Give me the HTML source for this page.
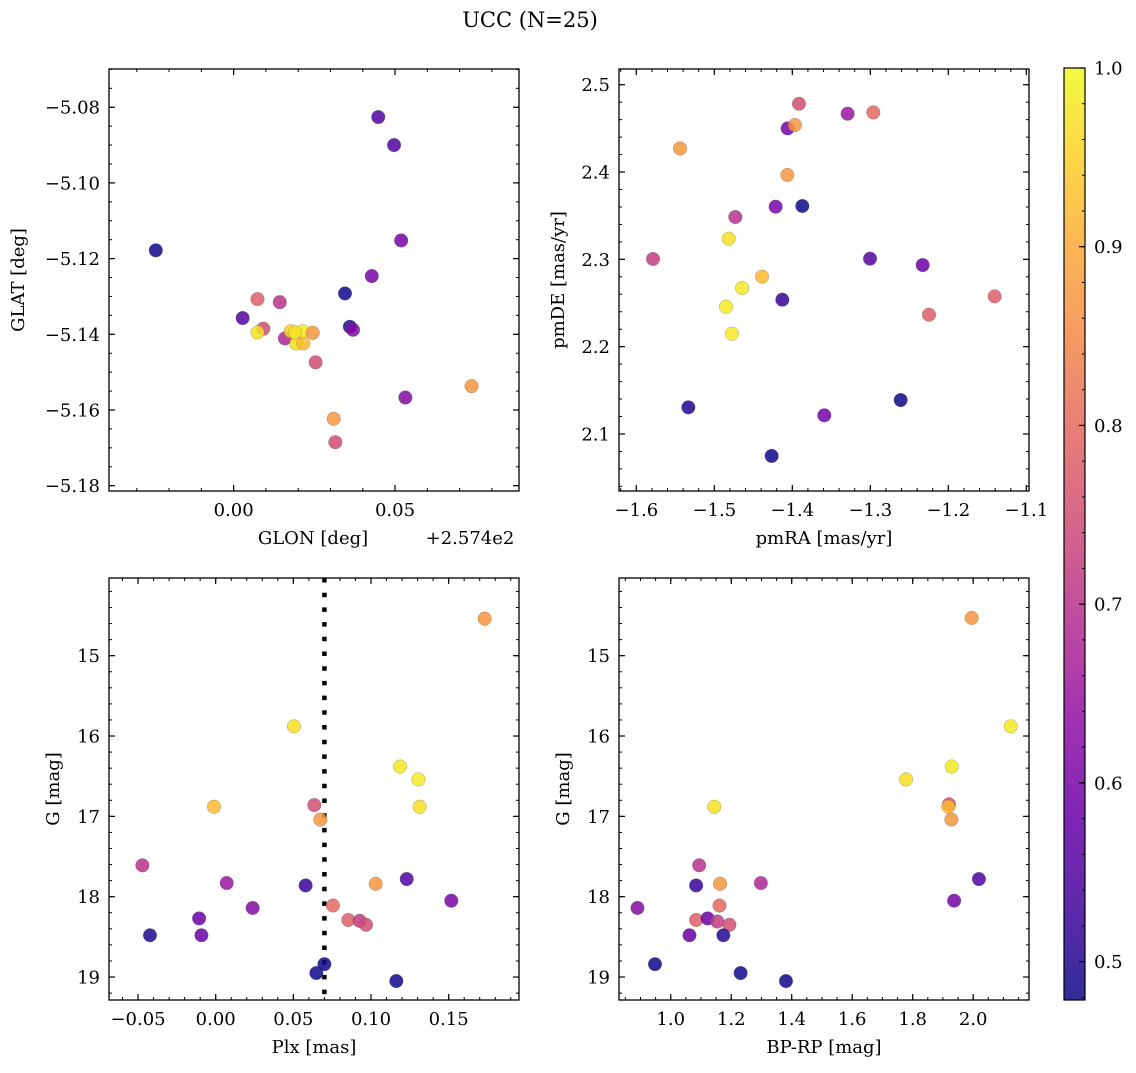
<!DOCTYPE html>
<html><head><meta charset="utf-8">
<style>
html,body{margin:0;padding:0;background:#fff;}
svg text{font-family:"DejaVu Serif","Liberation Serif",serif;fill:#000;}
</style></head>
<body>
<svg id="fig" width="1136" height="1068" viewBox="0 0 1136 1068" xmlns="http://www.w3.org/2000/svg">
<defs>
<linearGradient id="plasma" x1="0" y1="1" x2="0" y2="0">
<stop offset="0" stop-color="#0d0887"/><stop offset="0.1" stop-color="#41049d"/><stop offset="0.2" stop-color="#6a00a8"/><stop offset="0.3" stop-color="#8f0da4"/><stop offset="0.4" stop-color="#b12a90"/><stop offset="0.5" stop-color="#cc4778"/><stop offset="0.6" stop-color="#e16462"/><stop offset="0.7" stop-color="#f2844b"/><stop offset="0.8" stop-color="#fca636"/><stop offset="0.9" stop-color="#fcce25"/><stop offset="1" stop-color="#f0f921"/>
</linearGradient>
</defs>
<text x="530" y="27" font-size="21" text-anchor="middle">UCC (N=25)</text>
</svg>
<script>
// ---- data ----
const glon = [-0.0241,0.0028,0.0074,0.0092,0.0074,0.0143,0.0159,0.0177,0.0194,0.0216,0.0215,0.0245,0.0254,0.0310,0.0315,0.0345,0.0360,0.0370,0.0428,0.0448,0.0497,0.0519,0.0532,0.0737,0.0190];
const glat = [-5.1178,-5.1357,-5.1307,-5.1385,-5.1395,-5.1315,-5.1411,-5.1392,-5.1424,-5.1424,-5.1392,-5.1396,-5.1474,-5.1623,-5.1685,-5.1292,-5.1380,-5.1388,-5.1246,-5.0826,-5.0900,-5.1152,-5.1567,-5.1537,-5.1395];
const probTL = [0.48,0.55,0.78,0.75,0.97,0.70,0.68,0.95,0.97,0.92,0.98,0.87,0.75,0.87,0.75,0.48,0.50,0.62,0.60,0.55,0.55,0.60,0.62,0.87,0.97];

const pmra = [-1.3915,-1.3291,-1.2962,-1.406,-1.3966,-1.544,-1.4064,-1.4214,-1.3872,-1.4731,-1.4816,-1.5786,-1.3004,-1.2329,-1.4389,-1.4645,-1.4128,-1.485,-1.1406,-1.2248,-1.4774,-1.5333,-1.2611,-1.359,-1.4265];
const pmde = [2.4782,2.4668,2.4683,2.450,2.4538,2.427,2.3966,2.3603,2.3611,2.3485,2.3237,2.3004,2.3008,2.2935,2.2802,2.2672,2.2538,2.2458,2.2576,2.2366,2.2149,2.1305,2.1389,2.1214,2.0748];
const probTR = [0.75,0.65,0.80,0.60,0.87,0.87,0.87,0.60,0.48,0.70,0.97,0.72,0.55,0.58,0.92,0.98,0.52,0.98,0.78,0.78,0.98,0.50,0.48,0.60,0.48];

const plx = [-0.0472,-0.0423,-0.0107,-0.0092,-0.0011,0.0071,0.0238,0.0504,0.0579,0.0635,0.0674,0.0648,0.0700,0.0755,0.0854,0.0927,0.0968,0.1030,0.1187,0.1305,0.1313,0.1230,0.1163,0.1517,0.1732];
const gmagBL = [17.61,18.48,18.27,18.48,16.88,17.83,18.14,15.88,17.86,16.86,17.04,18.95,18.84,18.11,18.29,18.30,18.35,17.84,16.38,16.54,16.88,17.78,19.05,18.05,14.54];
const probBL = [0.70,0.50,0.58,0.58,0.92,0.65,0.62,0.97,0.52,0.75,0.87,0.48,0.48,0.80,0.78,0.72,0.75,0.87,0.98,0.98,0.97,0.55,0.48,0.60,0.87];

const bprp = [1.995,2.124,1.929,1.778,1.920,1.918,1.928,1.144,1.094,1.084,1.163,1.298,2.019,1.937,0.890,1.161,1.084,1.122,1.154,1.194,1.062,1.174,0.948,1.231,1.381];
const gmagBR = [14.53,15.88,16.38,16.54,16.85,16.88,17.04,16.88,17.61,17.86,17.84,17.83,17.78,18.05,18.14,18.11,18.29,18.27,18.31,18.35,18.48,18.48,18.84,18.95,19.05];
const probBR = [0.87,0.98,0.98,0.97,0.75,0.92,0.87,0.97,0.70,0.52,0.87,0.68,0.55,0.60,0.62,0.80,0.78,0.58,0.72,0.75,0.58,0.50,0.48,0.48,0.48];

const tickTLx = [0.00,0.05], tickTLy = [-5.08,-5.10,-5.12,-5.14,-5.16,-5.18];
const tickTRx = [-1.6,-1.5,-1.4,-1.3,-1.2,-1.1], tickTRy = [2.1,2.2,2.3,2.4,2.5];
const tickBLx = [-0.05,0.00,0.05,0.10,0.15], tickBy = [15,16,17,18,19];
const tickBRx = [1.0,1.2,1.4,1.6,1.8,2.0];
const cbTicks = [0.5,0.6,0.7,0.8,0.9,1.0];
const plxLine = 0.07;
const cMin = 0.4785, cMax = 1.0;

// ---- helpers ----
const NS = "http://www.w3.org/2000/svg";
const svg = document.getElementById('fig');
const TF = 18, LF = 18;
function mk(tag, attrs, parent){ const e=document.createElementNS(NS,tag); for(const k in attrs) e.setAttribute(k,attrs[k]); (parent||svg).appendChild(e); return e; }
const stops=[[0,[13,8,135]],[0.1,[65,4,157]],[0.2,[106,0,168]],[0.3,[143,13,164]],[0.4,[177,42,144]],[0.5,[204,71,120]],[0.6,[225,100,98]],[0.7,[242,132,75]],[0.8,[252,166,54]],[0.9,[252,206,37]],[1,[240,249,33]]];
function plasma(v){ let t=(v-cMin)/(cMax-cMin); t=Math.max(0,Math.min(1,t));
  for(let i=1;i<stops.length;i++){ if(t<=stops[i][0]){ const a=stops[i-1],b=stops[i]; const f=(t-a[0])/(b[0]-a[0]);
    const c=a[1].map((x,j)=>Math.round(x+(b[1][j]-x)*f)); return `rgb(${c[0]},${c[1]},${c[2]})`; } }
  return 'rgb(240,249,33)'; }
function fmt(v,d){ const s=v.toFixed(d); return s.startsWith('-')?'\u2212'+s.slice(1):s; }

function panel(o){
  const {x0,y0,w,h,xmin,xmax,ymin,ymax,invY,name}=o;
  const sx=v=>x0+(v-xmin)/(xmax-xmin)*w;
  const sy=v=>invY? y0+(v-ymin)/(ymax-ymin)*h : y0+h-(v-ymin)/(ymax-ymin)*h;
  const g=mk('g',{});
  
  
  const eps=1e-9;
  for(let v=Math.ceil(xmin/o.xminor-eps)*o.xminor; v<=xmax+eps; v+=o.xminor){ const X=sx(v);
    mk('line',{x1:X,x2:X,y1:y0+h,y2:y0+h-3,stroke:'#000','stroke-width':1},g); mk('line',{x1:X,x2:X,y1:y0,y2:y0+3,stroke:'#000','stroke-width':1},g); }
  for(let v=Math.ceil(ymin/o.yminor-eps)*o.yminor; v<=ymax+eps; v+=o.yminor){ const Y=sy(v);
    mk('line',{x1:x0,x2:x0+3,y1:Y,y2:Y,stroke:'#000','stroke-width':1},g); mk('line',{x1:x0+w,x2:x0+w-3,y1:Y,y2:Y,stroke:'#000','stroke-width':1},g); }
  o.xt.forEach(v=>{ const X=sx(v);
    mk('line',{x1:X,x2:X,y1:y0+h,y2:y0+h-6,stroke:'#000','stroke-width':1.2},g); mk('line',{x1:X,x2:X,y1:y0,y2:y0+6,stroke:'#000','stroke-width':1.2},g);
    const t=mk('text',{x:X,y:y0+h+25,'font-size':TF,'text-anchor':'middle'},g); t.textContent=fmt(v,o.xd);
    
     });
  o.yt.forEach(v=>{ const Y=sy(v);
    mk('line',{x1:x0,x2:x0+6,y1:Y,y2:Y,stroke:'#000','stroke-width':1.2},g); mk('line',{x1:x0+w,x2:x0+w-6,y1:Y,y2:Y,stroke:'#000','stroke-width':1.2},g);
    const t=mk('text',{x:x0-9,y:Y+6.5,'font-size':TF,'text-anchor':'end'},g); t.textContent=fmt(v,o.yd);
    
     });
  if(o.vline!==undefined){ const X=sx(o.vline);
    const l=mk('line',{x1:X,x2:X,y1:y0,y2:y0+h,stroke:'#000','stroke-width':4.5,'stroke-dasharray':'4.5 10.2'},g);
    
     }
  o.xs.forEach((v,i)=>{ const c=mk('circle',{cx:sx(v),cy:sy(o.ys[i]),r:6.8,fill:plasma(o.cs[i]),'fill-opacity':0.85,stroke:'#555','stroke-opacity':0.5,'stroke-width':0.5},g);
    
     });
  const fr=mk('rect',{x:x0,y:y0,width:w,height:h,fill:'none',stroke:'#000','stroke-width':1.3},g);
  
  
  const xl=mk('text',{x:x0+o.xlabOff,y:y0+h+53,'font-size':LF,'text-anchor':'middle'},g); xl.textContent=o.xlab;
  
  
  const yl=mk('text',{x:o.ylx,y:y0+h/2,'font-size':LF,'text-anchor':'middle',transform:`rotate(-90 ${o.ylx} ${y0+h/2})`},g); yl.textContent=o.ylab;
  
  
}

panel({name:'glon-glat-panel',x0:109,y0:69,w:410,h:422,xmin:-0.0386,xmax:0.0884,ymin:-5.1814,ymax:-5.0699,xminor:0.01,yminor:0.005,xt:tickTLx,yt:tickTLy,xd:2,yd:2,xs:glon,ys:glat,cs:probTL,xlab:'GLON [deg]',xlabOff:204,ylab:'GLAT [deg]',ylx:24});
panel({name:'pm-panel',x0:619,y0:69,w:410,h:422,xmin:-1.6222,xmax:-1.0966,ymin:2.0347,ymax:2.518,xminor:0.02,yminor:0.02,xt:tickTRx,yt:tickTRy,xd:1,yd:1,xs:pmra,ys:pmde,cs:probTR,xlab:'pmRA [mas/yr]',xlabOff:205,ylab:'pmDE [mas/yr]',ylx:564});
panel({name:'plx-g-panel',x0:109,y0:578,w:410,h:422,xmin:-0.0687,xmax:0.1953,ymin:14.033,ymax:19.286,invY:true,xminor:0.01,yminor:0.2,xt:tickBLx,yt:tickBy,xd:2,yd:0,xs:plx,ys:gmagBL,cs:probBL,xlab:'Plx [mas]',xlabOff:205,ylab:'G [mag]',ylx:59,vline:plxLine});
panel({name:'cmd-panel',x0:619,y0:578,w:410,h:422,xmin:0.829,xmax:2.1845,ymin:14.033,ymax:19.286,invY:true,xminor:0.05,yminor:0.2,xt:tickBRx,yt:tickBy,xd:1,yd:0,xs:bprp,ys:gmagBR,cs:probBR,xlab:'BP-RP [mag]',xlabOff:205,ylab:'G [mag]',ylx:569});

const off=mk('text',{x:470,y:544,'font-size':LF,'text-anchor':'middle'}); off.textContent='+2.574e2';



// colorbar
const cbx=1064, cby=68, cbw=21, cbh=932;
const cbG=mk('g',{});


mk('rect',{x:cbx,y:cby,width:cbw,height:cbh,fill:'url(#plasma)','fill-opacity':0.85},cbG);
const cy=v=>cby+cbh-(v-cMin)/(cMax-cMin)*cbh;
for(let v=0.48; v<=1.0001; v+=0.02){ const Y=cy(v); mk('line',{x1:cbx+cbw,x2:cbx+cbw-3,y1:Y,y2:Y,stroke:'#000','stroke-width':1},cbG); }
cbTicks.forEach(v=>{ const Y=cy(v); mk('line',{x1:cbx+cbw,x2:cbx+cbw-6,y1:Y,y2:Y,stroke:'#000','stroke-width':1.2},cbG);
  const t=mk('text',{x:cbx+cbw+9,y:Y+6.5,'font-size':TF},cbG); t.textContent=v.toFixed(1);
  
   });
mk('rect',{x:cbx,y:cby,width:cbw,height:cbh,fill:'none',stroke:'#000','stroke-width':1.2},cbG);
</script>
</body></html>
